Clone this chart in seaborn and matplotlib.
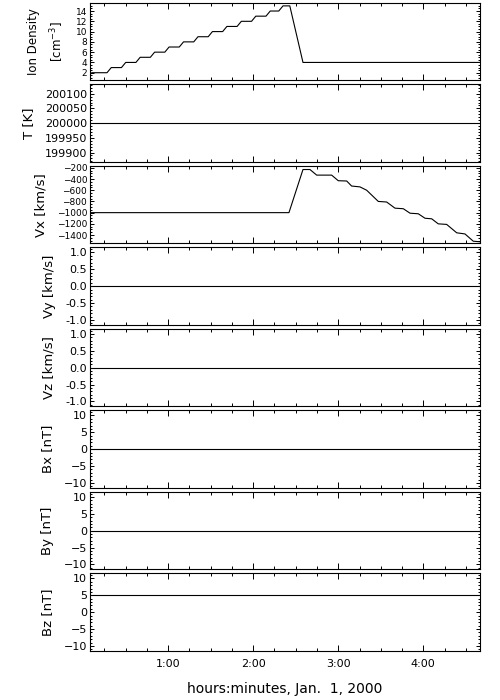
import matplotlib
matplotlib.use("Agg")
import matplotlib.pyplot as plt
from matplotlib.ticker import MultipleLocator, FuncFormatter, FormatStrFormatter, ScalarFormatter
import pandas as pd
import seaborn as sns

# time axis in hours, Jan. 1, 2000
t_start, t_end = 0.08, 4.667

# ion density [cm^-3]
dens_time = [0.08, 0.10, 0.28, 0.33, 0.45, 0.50, 0.62, 0.67, 0.79, 0.84, 0.96, 1.01,
             1.13, 1.18, 1.30, 1.35, 1.47, 1.52, 1.64, 1.69, 1.81, 1.86, 1.98, 2.03,
             2.15, 2.20, 2.30, 2.35, 2.43, 2.585, 4.667]
dens_vals = [1.6, 2, 2, 3, 3, 4, 4, 5, 5, 6, 6, 7,
             7, 8, 8, 9, 9, 10, 10, 11, 11, 12, 12, 13,
             13, 14, 14, 15, 15, 4, 4]

# Vx [km/s]
vx_time = [0.08, 2.42, 2.585, 2.667, 2.746, 2.922, 3.0, 3.099, 3.157, 3.255, 3.334,
           3.471, 3.569, 3.667, 3.765, 3.844, 3.941, 4.02, 4.099, 4.176, 4.275,
           4.393, 4.49, 4.588, 4.667]
vx_vals = [-1000, -1000, -230, -230, -330, -330, -430, -435, -525, -540, -600,
           -800, -810, -920, -930, -1010, -1020, -1100, -1110, -1200, -1210,
           -1360, -1380, -1510, -1520]

# constant quantities
temp_val = 200000
vy_val = 0.0
vz_val = 0.0
bx_val = 0.0
by_val = 0.0
bz_val = 5.0

sns.set_style("ticks")
plt.rcParams.update({
    "font.family": ["DejaVu Sans"],
    "font.size": 8,
    "axes.linewidth": 0.8,
    "axes.edgecolor": "black",
    "xtick.color": "black",
    "ytick.color": "black",
    "text.color": "black",
    "axes.labelcolor": "black",
})

fig, axes = plt.subplots(8, 1, figsize=(5, 7), dpi=100, sharex=True)
fig.subplots_adjust(left=0.18, right=0.96, top=0.996, bottom=0.07, hspace=0.05)

series = [
    (dens_time, dens_vals),
    ([t_start, t_end], [temp_val, temp_val]),
    (vx_time, vx_vals),
    ([t_start, t_end], [vy_val, vy_val]),
    ([t_start, t_end], [vz_val, vz_val]),
    ([t_start, t_end], [bx_val, bx_val]),
    ([t_start, t_end], [by_val, by_val]),
    ([t_start, t_end], [bz_val, bz_val]),
]
labels = ["Ion Density\n[cm$^{-3}$]", "T [K]", "Vx [km/s]", "Vy [km/s]",
          "Vz [km/s]", "Bx [nT]", "By [nT]", "Bz [nT]"]
label_sizes = [8.5, 9.5, 9.5, 9.5, 9.5, 9.5, 9.5, 9.5]
ylims = [(0.5, 15.6), (199868, 200132), (-1550, -164), (-1.15, 1.15),
         (-1.15, 1.15), (-11.5, 11.5), (-11.5, 11.5), (-11.5, 11.5)]
majors = [2, 50, 200, 0.5, 0.5, 5, 5, 5]
minors = [0.5, 10, 50, 0.1, 0.1, 1, 1, 1]
# the two crowded panels get slightly smaller tick labels
tick_sizes = [6.5, 8, 6.5, 8, 8, 8, 8, 8]

for i, ax in enumerate(axes):
    tt, vv = series[i]
    df = pd.DataFrame({"time": tt, "value": vv})
    sns.lineplot(data=df, x="time", y="value", ax=ax, color="black",
                 linewidth=0.8, estimator=None, sort=False)
    ax.set_ylim(*ylims[i])
    ax.set_xlim(t_start, t_end)
    ax.yaxis.set_major_locator(MultipleLocator(majors[i]))
    ax.yaxis.set_minor_locator(MultipleLocator(minors[i]))
    if majors[i] == 0.5:
        ax.yaxis.set_major_formatter(FormatStrFormatter("%.1f"))
    else:
        ax.yaxis.set_major_formatter(ScalarFormatter(useOffset=False))
    ax.set_ylabel(labels[i], fontsize=label_sizes[i], labelpad=7, linespacing=1.6)
    ax.set_xlabel("")
    ax.tick_params(which="both", direction="in", top=True, right=True)
    ax.tick_params(axis="x", which="major", length=4.3, width=0.7)
    ax.tick_params(axis="x", which="minor", length=2.2, width=0.7)
    ax.tick_params(axis="y", which="major", length=3.0, width=0.7, pad=2,
                   labelsize=tick_sizes[i])
    ax.tick_params(axis="y", which="minor", length=1.5, width=0.7)

axes[-1].xaxis.set_major_locator(MultipleLocator(1))
axes[-1].xaxis.set_minor_locator(MultipleLocator(0.25))
axes[-1].xaxis.set_major_formatter(
    FuncFormatter(lambda h, pos: f"{int(h)}:{int(round((h % 1) * 60)):02d}"))
axes[-1].tick_params(axis="x", pad=6)
axes[-1].set_xlabel("hours:minutes, Jan.  1, 2000", fontsize=10, labelpad=9)

fig.savefig("out.png", dpi=100, facecolor="white")
